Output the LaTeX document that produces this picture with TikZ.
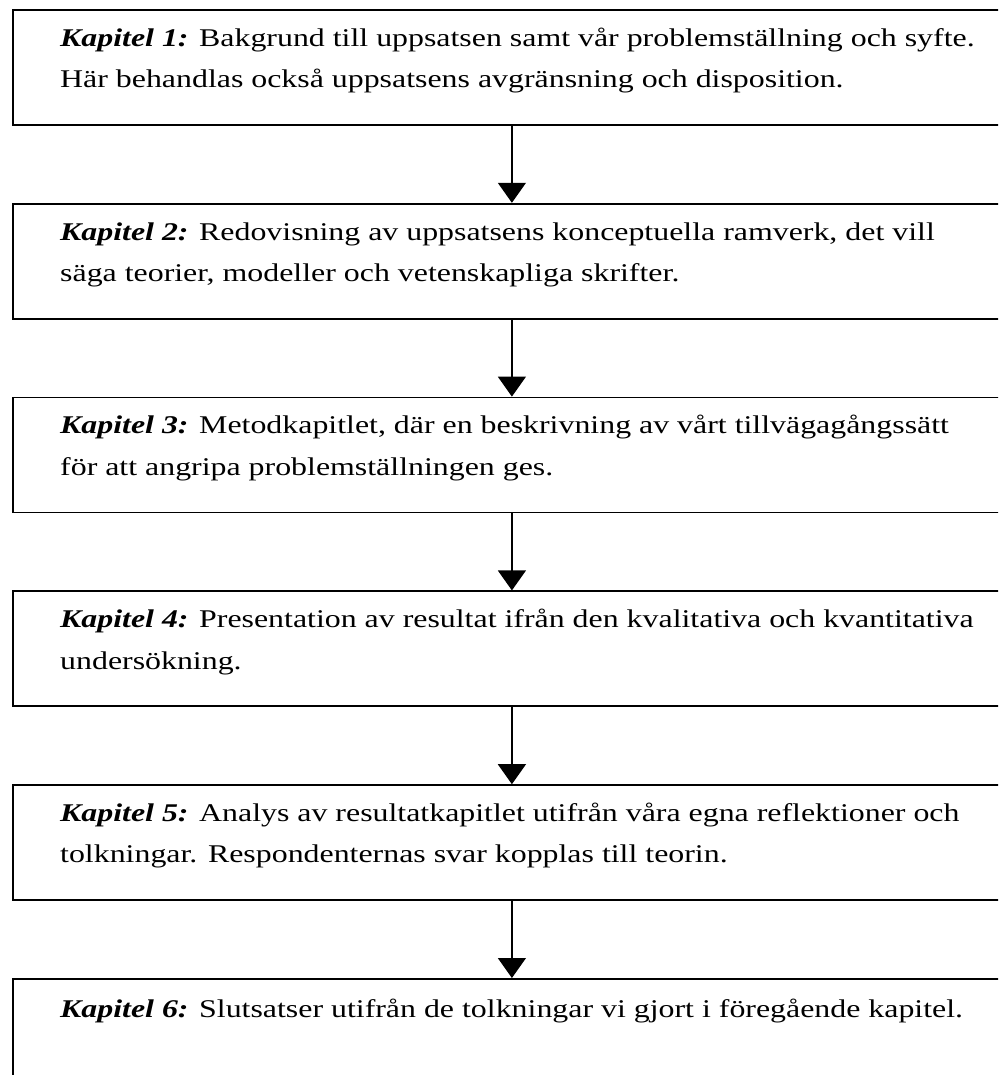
\documentclass[tikz,border=0pt]{standalone}
\usepackage{fontspec}
\setmainfont[FakeStretch=1.25]{Liberation Serif}
\usetikzlibrary{positioning,arrows.meta}

\newcommand{\kapitel}[1]{\textbf{\textit{Kapitel #1:}}}

\tikzset{
  chapbox/.style ={draw=black, line width=1.8pt, rectangle, minimum width=998pt, minimum height=115pt, inner sep=0pt},
  chaptext/.style={font=\fontsize{25.5pt}{41.5pt}\selectfont, align=left, inner sep=0pt, anchor=north west},
  flow/.style    ={-{Triangle[length=20pt,width=28pt]}, line width=1.3pt}
}

\begin{document}
\begin{tikzpicture}[x=1pt, y=-1pt]
    \clip (0,0) rectangle (998,1075);

    % chapter boxes
    \node[chapbox, anchor=north west] (k1) at (12,9) {};
    \node[chapbox, below=77pt of k1] (k2) {};
    \node[chapbox, below=77pt of k2] (k3) {};
    \node[chapbox, below=77pt of k3] (k4) {};
    \node[chapbox, below=77pt of k4] (k5) {};
    \node[chapbox, below=77pt of k5] (k6) {};

    % texts
    \node[chaptext] (t1) at ([xshift=48pt,yshift=-8pt]k1.north west)
      {\strut\kapitel{1} Bakgrund till uppsatsen samt vår problemställning och syfte.\\
       Här behandlas också uppsatsens avgränsning och disposition.};
    \node[chaptext] (t2) at ([xshift=48pt,yshift=-8pt]k2.north west)
      {\strut\kapitel{2} Redovisning av uppsatsens konceptuella ramverk, det vill\\
       säga teorier, modeller och vetenskapliga skrifter.};
    \node[chaptext] (t3) at ([xshift=48pt,yshift=-8pt]k3.north west)
      {\strut\kapitel{3} Metodkapitlet, där en beskrivning av vårt tillvägagångssätt\\
       för att angripa problemställningen ges.};
    \node[chaptext] (t4) at ([xshift=48pt,yshift=-8pt]k4.north west)
      {\strut\kapitel{4} Presentation av resultat ifrån den kvalitativa och kvantitativa\\
       undersökning.};
    \node[chaptext] (t5) at ([xshift=48pt,yshift=-8pt]k5.north west)
      {\strut\kapitel{5} Analys av resultatkapitlet utifrån våra egna reflektioner och\\
       tolkningar. Respondenternas svar kopplas till teorin.};
    \node[chaptext] (t6) at ([xshift=48pt,yshift=-10pt]k6.north west)
      {\strut\kapitel{6} Slutsatser utifrån de tolkningar vi gjort i föregående kapitel.};

    % arrows
    \draw[flow] (k1.south) -- (k2.north);
    \draw[flow] (k2.south) -- (k3.north);
    \draw[flow] (k3.south) -- (k4.north);
    \draw[flow] (k4.south) -- (k5.north);
    \draw[flow] (k5.south) -- (k6.north);
\end{tikzpicture}
\end{document}
